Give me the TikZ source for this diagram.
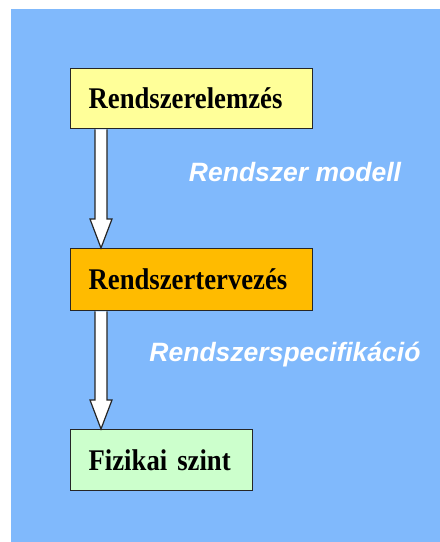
\documentclass[tikz,border=0pt]{standalone}
\usepackage{fontspec}
\setmainfont{Liberation Serif}
\setsansfont{Liberation Sans}
\newfontfamily\stagefont[FakeStretch=0.89]{Liberation Serif}
\usetikzlibrary{positioning,calc}

\definecolor{bgblue}{RGB}{128,185,252}
\definecolor{boxyellow}{RGB}{255,255,153}
\definecolor{boxorange}{RGB}{255,187,0}
\definecolor{boxgreen}{RGB}{204,255,204}

\begin{document}
\begin{tikzpicture}[x=1pt,y=-1pt,
    stage/.style={rectangle,anchor=north west,draw=black!85,line width=1.3pt,
      minimum height=60pt,inner xsep=18pt,align=left,
      font=\fontsize{30}{32}\stagefont\bfseries},
    flowlabel/.style={text=white,font=\fontsize{26.5}{30}\selectfont\sffamily\bfseries\itshape},
    hollow/.style={draw=black!85,line width=1.2pt,fill=white,line join=miter},
   ]
    \useasboundingbox (0,0) rectangle (440,542);
    \fill[bgblue] (11,9) rectangle (440,542);

    \node (elemzes)  [stage,fill=boxyellow,text width=206pt,minimum height=60pt] at (70,68)  {Rendszerelemzés};
    \node (tervezes) [stage,fill=boxorange,text width=206pt,minimum height=62pt] at (70,248) {Rendszertervezés};
    \node (fizikai)  [stage,fill=boxgreen,text width=146pt,minimum height=61pt]  at (70,429) {Fizikai szint};

    \node (modell) [flowlabel] at (295,172) {Rendszer modell};
    \node (spec)   [flowlabel] at (285,355) {Rendszerspecifikáció};

    % hollow arrows between the stages
    \draw[hollow] let \p1=($(elemzes.south west)+(31,0)$), \p2=(tervezes.north) in
      (\x1-6pt,\y1) -- (\x1-6pt,\y2+29pt) -- (\x1-11pt,\y2+29pt) -- (\x1,\y2)
      -- (\x1+11pt,\y2+29pt) -- (\x1+6pt,\y2+29pt) -- (\x1+6pt,\y1);
    \draw[hollow] let \p1=($(tervezes.south west)+(31,0)$), \p2=(fizikai.north) in
      (\x1-6pt,\y1) -- (\x1-6pt,\y2+29pt) -- (\x1-11pt,\y2+29pt) -- (\x1,\y2)
      -- (\x1+11pt,\y2+29pt) -- (\x1+6pt,\y2+29pt) -- (\x1+6pt,\y1);
\end{tikzpicture}
\end{document}
